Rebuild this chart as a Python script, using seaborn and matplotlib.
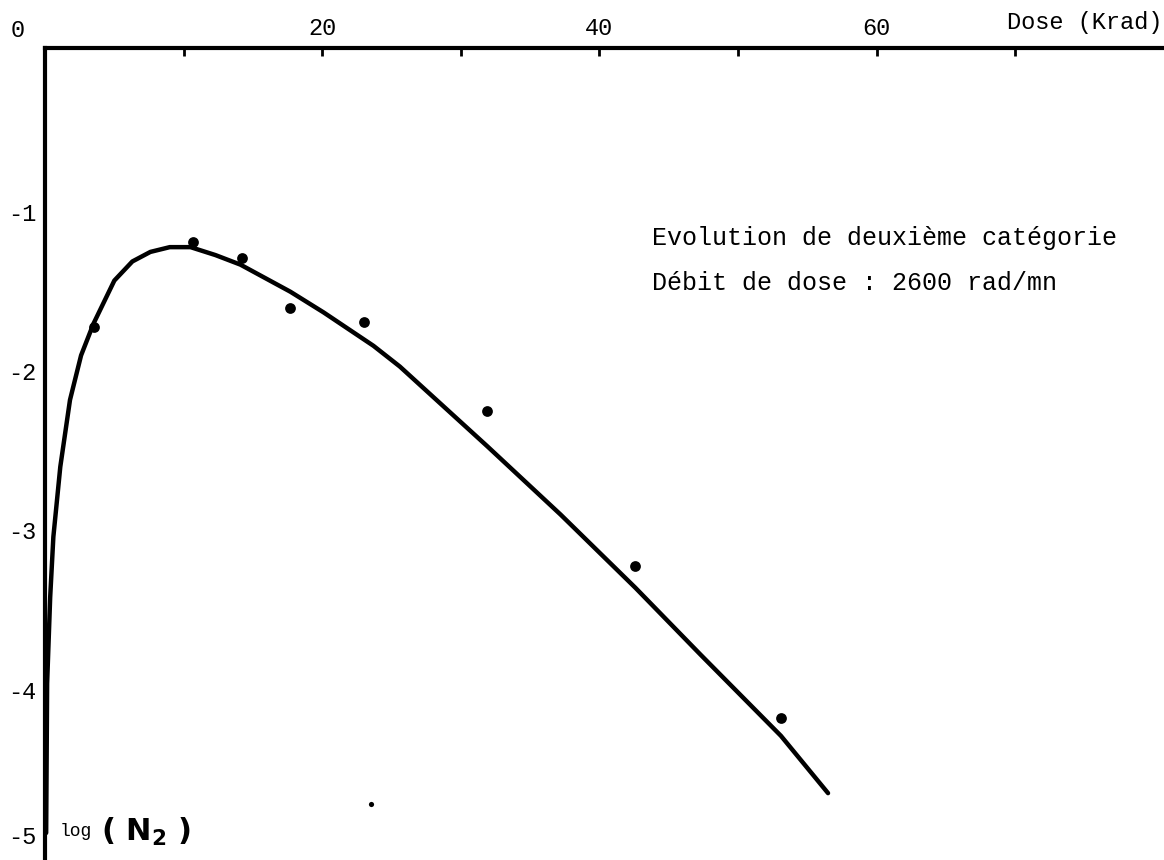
import matplotlib
matplotlib.use("Agg")
import matplotlib.pyplot as plt
import seaborn as sns

# ---- data ----
dose_pts = [3.5, 10.7, 14.2, 17.7, 23.0, 31.9, 42.6, 53.1]
logn_pts = [-1.72, -1.19, -1.29, -1.60, -1.69, -2.25, -3.22, -4.18]

stray_dose = [23.5]
stray_logn = [-4.72]

curve_dose = [0.08, 0.15, 0.37, 0.6, 1.1, 1.8, 2.6, 3.5, 5.0, 6.3, 7.6, 9.0,
              10.5, 12.3, 14.1, 17.7, 20.1, 23.7, 25.6, 31.9, 37.2, 42.6,
              47.3, 53.1, 56.5]
curve_logn = [-4.9, -3.96, -3.42, -3.04, -2.6, -2.18, -1.9, -1.70, -1.43,
              -1.31, -1.25, -1.22, -1.22, -1.27, -1.33, -1.50, -1.63, -1.84,
              -1.97, -2.47, -2.9, -3.36, -3.78, -4.29, -4.65]

x_ticks = [10, 20, 30, 40, 50, 60, 70]
x_labels = ["", "20", "", "40", "", "60", ""]
y_ticks = [-1, -2, -3, -4, -5]
y_labels = ["-1", "-2", "-3", "-4", "-5"]

title_lines = ["Evolution de deuxième catégorie", "Débit de dose : 2600 rad/mn"]

# ---- style ----
sns.set_theme(style="white")
plt.rcParams["font.family"] = ["Liberation Mono", "DejaVu Sans"]

fig = plt.figure(figsize=(11.64, 8.6), dpi=100)
ax = fig.add_axes([0.0387, 0.0, 0.9596, 0.944])

sns.lineplot(x=curve_dose, y=curve_logn, sort=False, color="black",
             linewidth=3.2, ax=ax)
sns.scatterplot(x=dose_pts, y=logn_pts, color="black", s=60, marker="o",
                edgecolor="black", linewidth=0, ax=ax)
sns.scatterplot(x=stray_dose, y=stray_logn, color="black", s=14, marker="o",
                edgecolor="black", linewidth=0, ax=ax)

ax.set_xlim(0, 80.6)
ax.set_ylim(-5.07, 0.03)

for side in ["right", "bottom"]:
    ax.spines[side].set_visible(False)
for side in ["top", "left"]:
    ax.spines[side].set_linewidth(3)
    ax.spines[side].set_color("black")

ax.xaxis.tick_top()
ax.set_xticks(x_ticks)
ax.set_xticklabels(x_labels)
ax.set_yticks(y_ticks)
ax.set_yticklabels(y_labels)
ax.tick_params(axis="x", direction="in", length=6, width=2, pad=6,
               labelsize=17, colors="black")
ax.tick_params(axis="y", direction="in", length=6, width=2, pad=6,
               labelsize=17, colors="black")
ax.get_yticklabels()[-1].set_verticalalignment("bottom")
ax.set_xlabel("")
ax.set_ylabel("")

# origin label and axis title
ax.annotate("0", xy=(0, 1), xycoords=("data", "axes fraction"),
            xytext=(-27, 18), textcoords="offset pixels",
            ha="center", va="center", fontsize=17, color="black")
ax.annotate("Dose (Krad)", xy=(1, 1), xycoords="axes fraction",
            xytext=(0, 26), textcoords="offset pixels",
            ha="right", va="center", fontsize=17, color="black")

# annotation text
ax.text(0.543, 0.766, title_lines[0], transform=ax.transAxes,
        fontsize=18, ha="left", va="center", color="black")
ax.text(0.543, 0.711, title_lines[1], transform=ax.transAxes,
        fontsize=18, ha="left", va="center", color="black")

# y-axis label at the bottom
ax.text(0.013, 0.035, "log", transform=ax.transAxes, fontsize=13,
        ha="left", va="center", color="black")
ax.text(0.05, 0.035, "( N$_\\mathbf{2}$ )", transform=ax.transAxes,
        fontsize=22, fontweight="bold", ha="left", va="center",
        color="black", family="DejaVu Sans")

fig.savefig("out.png", dpi=100)
